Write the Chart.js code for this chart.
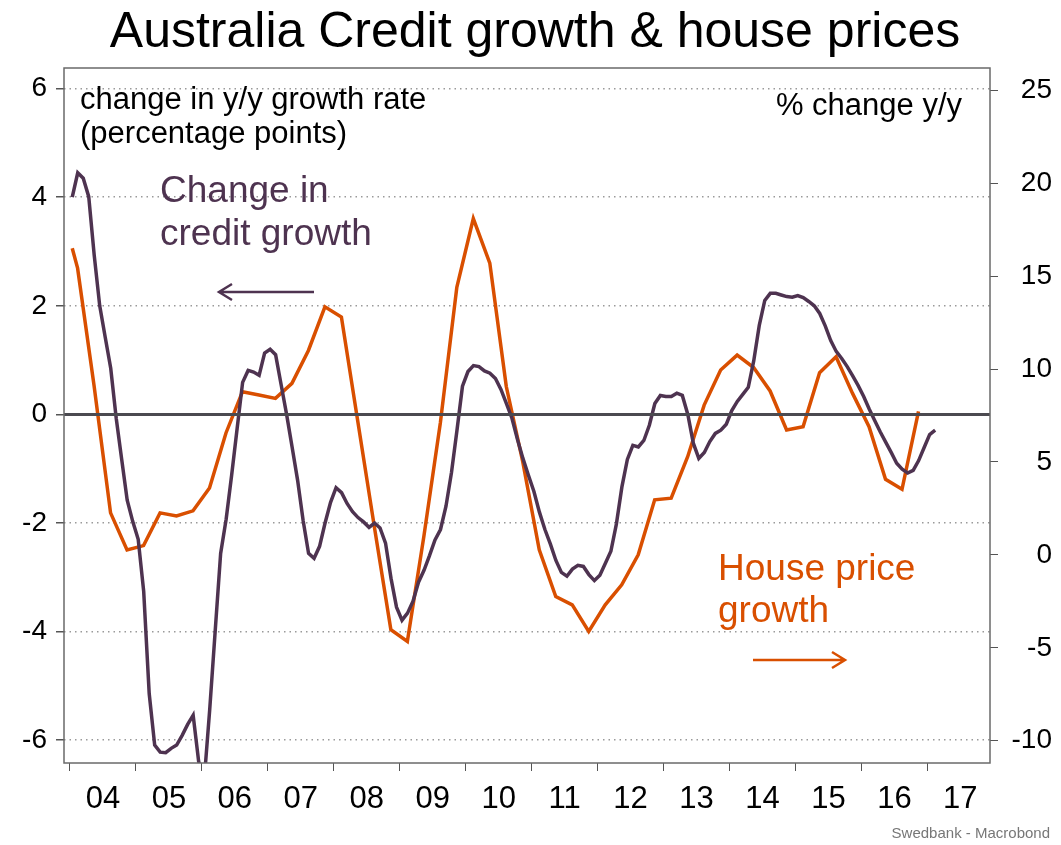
<!DOCTYPE html>
<html lang="en">
<head>
<meta charset="UTF-8">
<title>Australia Credit growth & house prices</title>
<script src="https://cdn.jsdelivr.net/npm/chart.js"></script>
<style>
  body { margin: 0; background: #fff; }
</style>
</head>
<body>
<canvas id="chart" width="1061" height="845"></canvas>
<script>
// years shown on the x axis (labels sit in the middle of each year)
const years = [2004, 2005, 2006, 2007, 2008, 2009, 2010, 2011, 2012, 2013, 2014, 2015, 2016, 2017];
const leftTicks = [-6, -4, -2, 0, 2, 4, 6];
const rightTicks = [-10, -5, 0, 5, 10, 15, 20, 25];

// change in credit growth, monthly, percentage points (left axis)
const creditStart = 2004.035;
const creditChange = [
  4.0, 4.45, 4.35, 4.01, 2.93, 2.0, 1.42, 0.85, -0.07, -0.83,
  -1.58, -1.97, -2.3, -3.26, -5.14, -6.09, -6.22, -6.23, -6.15, -6.09,
  -5.91, -5.71, -5.54, -6.39, -6.75, -5.45, -4.0, -2.56, -1.93, -1.12,
  -0.26, 0.59, 0.81, 0.78, 0.72, 1.13, 1.2, 1.1, 0.55, 0.0,
  -0.6, -1.21, -1.95, -2.56, -2.65, -2.43, -2.0, -1.62, -1.35, -1.44,
  -1.64, -1.79, -1.9, -1.98, -2.08, -2.0, -2.09, -2.37, -3.02, -3.55,
  -3.79, -3.66, -3.44, -3.09, -2.87, -2.6, -2.31, -2.12, -1.69, -1.07,
  -0.29, 0.52, 0.79, 0.9, 0.88, 0.8, 0.76, 0.66, 0.46, 0.2,
  -0.07, -0.46, -0.81, -1.12, -1.42, -1.8, -2.12, -2.39, -2.69, -2.91,
  -2.98, -2.85, -2.78, -2.8, -2.95, -3.06, -2.96, -2.74, -2.52, -2.02,
  -1.34, -0.83, -0.57, -0.6, -0.48, -0.2, 0.2, 0.35, 0.33, 0.33,
  0.39, 0.35, 0.0, -0.53, -0.81, -0.7, -0.5, -0.35, -0.29, -0.18,
  0.07, 0.24, 0.37, 0.5, 0.99, 1.64, 2.1, 2.23, 2.23, 2.2,
  2.17, 2.16, 2.19, 2.15, 2.08, 2.0, 1.86, 1.63, 1.36, 1.16,
  1.03, 0.88, 0.71, 0.53, 0.33, 0.1, -0.11, -0.32, -0.51, -0.7,
  -0.9, -1.01, -1.08, -1.03, -0.85, -0.61, -0.37, -0.29
];

// house price growth, % y/y, quarterly (right axis)
const houseFirst = { x: 2004.035, y: 16.5 };
const houseStart = 2004.116;
const housePrices = [
  15.43, 9.1, 2.26, 0.27, 0.5, 2.26, 2.1, 2.37, 3.6, 6.56,
  8.78, 8.6, 8.42, 9.23, 11.0, 13.35, 12.8, 7.15, 1.5, -4.03,
  -4.66, 0.99, 7.1, 14.4, 18.1, 15.7, 9.06, 5.0, 0.27, -2.24,
  -2.69, -4.12, -2.69, -1.61, 0.0, 2.96, 3.05, 5.28, 8.06, 9.95,
  10.75, 10.08, 8.82, 6.72, 6.9, 9.8, 10.66, 8.69, 6.9, 4.07,
  3.53, 7.72
];

const PURPLE = '#4e3350';
const ORANGE = '#d94f00';
const FONT = "'Liberation Sans', Arial, sans-serif";

const creditData = creditChange.map((v, i) => ({ x: creditStart + i / 12, y: v }));
const houseData = [houseFirst].concat(housePrices.map((v, i) => ({ x: houseStart + i * 0.25, y: v })));

// frame, zero line and all the free text
const decor = {
  id: 'decor',
  afterDatasetsDraw(chart) {
    const { ctx, chartArea: a } = chart;
    const y0 = chart.scales.y.getPixelForValue(0);
    ctx.save();
    ctx.strokeStyle = '#4b4a50';
    ctx.lineWidth = 3;
    ctx.beginPath();
    ctx.moveTo(a.left, y0);
    ctx.lineTo(a.right, y0);
    ctx.stroke();

    ctx.strokeStyle = '#6a6a6a';
    ctx.lineWidth = 1.5;
    ctx.strokeRect(a.left, a.top, a.right - a.left, a.bottom - a.top);
    ctx.restore();
  },
  afterDraw(chart) {
    const { ctx } = chart;
    ctx.save();
    ctx.textBaseline = 'alphabetic';

    ctx.fillStyle = '#000';
    ctx.textAlign = 'center';
    ctx.font = '50px ' + FONT;
    ctx.fillText('Australia Credit growth & house prices', 535, 47);

    ctx.font = '31px ' + FONT;
    ctx.textAlign = 'left';
    ctx.fillText('change in y/y growth rate', 80, 109);
    ctx.fillText('(percentage points)', 80, 143);
    ctx.textAlign = 'right';
    ctx.fillText('% change y/y', 962, 115);

    ctx.font = '37px ' + FONT;
    ctx.textAlign = 'left';
    ctx.fillStyle = PURPLE;
    ctx.fillText('Change in', 160, 202);
    ctx.fillText('credit growth', 160, 245);
    ctx.fillStyle = ORANGE;
    ctx.fillText('House price', 718, 580);
    ctx.fillText('growth', 718, 622);

    // arrows
    ctx.lineWidth = 2.5;
    ctx.strokeStyle = PURPLE;
    ctx.beginPath();
    ctx.moveTo(314, 292); ctx.lineTo(219, 292);
    ctx.moveTo(232, 284); ctx.lineTo(219, 292); ctx.lineTo(232, 300);
    ctx.stroke();
    ctx.strokeStyle = ORANGE;
    ctx.beginPath();
    ctx.moveTo(753, 660); ctx.lineTo(845, 660);
    ctx.moveTo(832, 652); ctx.lineTo(845, 660); ctx.lineTo(832, 668);
    ctx.stroke();

    ctx.fillStyle = '#777';
    ctx.textAlign = 'right';
    ctx.font = '15px ' + FONT;
    ctx.fillText('Swedbank - Macrobond', 1050, 838);
    ctx.restore();
  }
};

new Chart(document.getElementById('chart'), {
  type: 'line',
  data: {
    datasets: [
      {
        label: 'Change in credit growth',
        data: creditData,
        yAxisID: 'y',
        borderColor: PURPLE,
        borderWidth: 3.5,
        pointRadius: 0,
        tension: 0,
        clip: 0
      },
      {
        label: 'House price growth',
        data: houseData,
        yAxisID: 'y1',
        borderColor: ORANGE,
        borderWidth: 3.5,
        pointRadius: 0,
        tension: 0,
        clip: 0
      }
    ]
  },
  options: {
    responsive: false,
    animation: false,
    layout: { padding: { top: 68, right: 9 } },
    plugins: {
      legend: { display: false },
      tooltip: { enabled: false }
    },
    scales: {
      x: {
        type: 'linear',
        min: 2003.91,
        max: 2017.95,
        afterBuildTicks: s => { s.ticks = years.map(v => ({ value: v })); },
        afterFit: s => { s.height = 82; },
        border: { display: false },
        grid: { drawOnChartArea: false, drawTicks: true, tickLength: 8, tickColor: '#555', tickWidth: 1 },
        ticks: {
          color: '#000',
          font: { family: FONT, size: 31 },
          padding: 10,
          maxRotation: 0,
          autoSkip: false,
          labelOffset: 33,
          callback: v => String(v % 100).padStart(2, '0')
        }
      },
      y: {
        position: 'left',
        min: -6.42,
        max: 6.38,
        afterBuildTicks: s => { s.ticks = leftTicks.map(v => ({ value: v })); },
        afterFit: s => { s.width = 64; },
        border: { display: false, dash: [1.5, 4] },
        grid: {
          color: c => (c.tick && c.tick.value === 0) ? 'rgba(0,0,0,0)' : '#9a9a9a',
          lineWidth: 1.5,
          tickLength: 8,
          tickColor: '#555',
          tickBorderDash: []
        },
        ticks: {
          color: '#000',
          font: { family: FONT, size: 28 },
          padding: 9,
          callback: v => String(v)
        }
      },
      y1: {
        position: 'right',
        min: -11.2,
        max: 26.2,
        afterBuildTicks: s => { s.ticks = rightTicks.map(v => ({ value: v })); },
        afterFit: s => { s.width = 62; },
        border: { display: false },
        grid: { drawOnChartArea: false, tickLength: 8, tickColor: '#555' },
        ticks: {
          color: '#000',
          font: { family: FONT, size: 28 },
          padding: 3,
          crossAlign: 'far',
          callback: v => String(v)
        }
      }
    }
  },
  plugins: [decor]
});
</script>
</body>
</html>
